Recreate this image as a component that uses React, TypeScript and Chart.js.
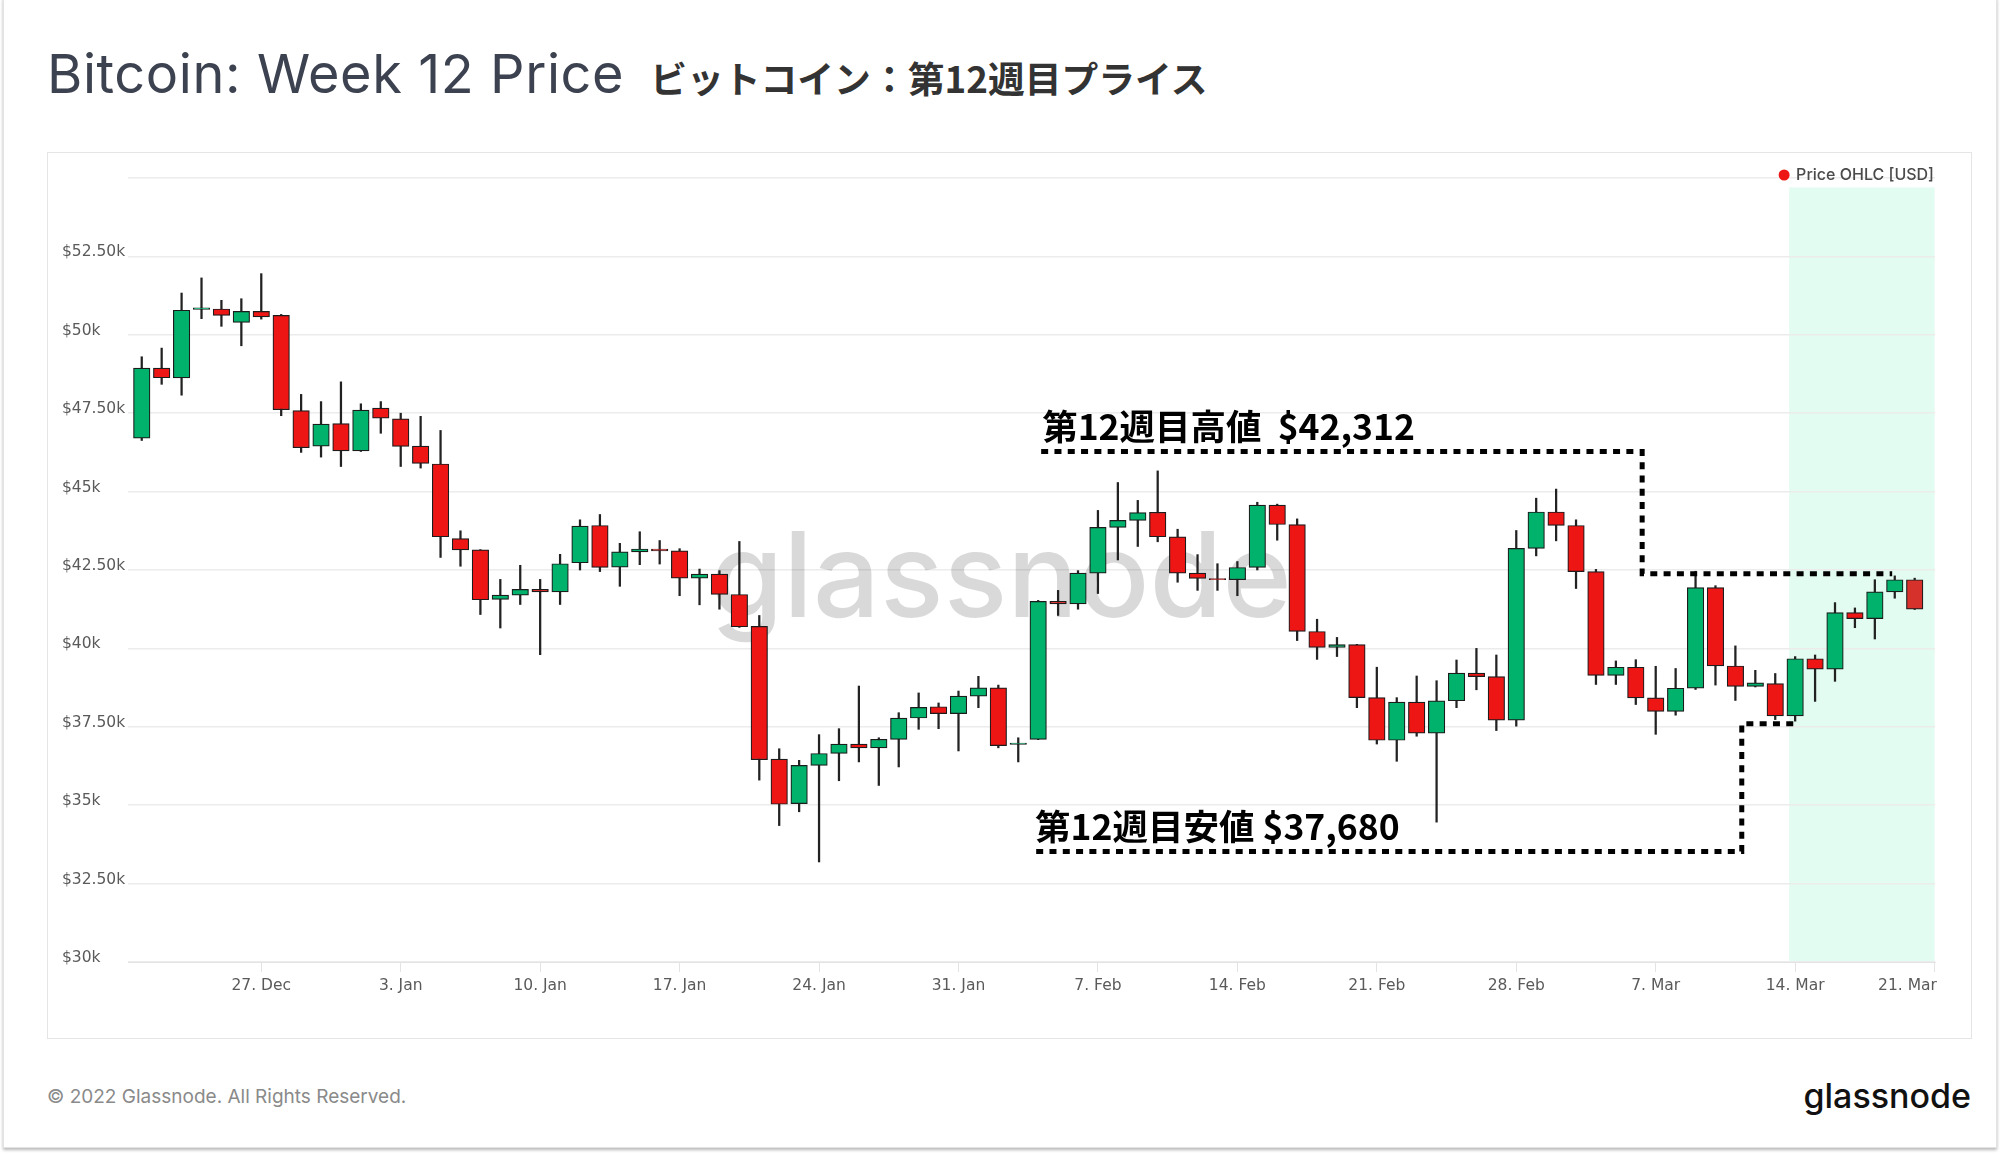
import React, { useEffect, useRef } from 'react';
import { Chart, registerables } from 'chart.js';

Chart.register(...registerables);

// ---- categories (one daily candle per date) ----
const dates: string[] = Array.from({ length: 90 }, (_, i) =>
  new Date(Date.UTC(2021, 11, 21 + i)).toISOString().slice(0, 10)
);

// ---- OHLC series (USD), Dec 21 2021 -> Mar 20 2022 ----
const opens = [
  46707, 48937, 48626, 50807, 50824, 50396, 50747, 50619, 47580, 46450, 47170,
  46300, 47660, 47320, 46450, 45880, 43500, 43140, 41560, 41700, 41880, 41800, 42730, 43920, 42590, 43080, 43170,
  43110, 42240, 42370, 41720, 40700, 36470, 35050, 36270, 36650, 36950, 36830, 37100, 37780, 38140, 37920,
  38480, 38740, 36940, 37100, 41500, 41420, 42400, 43860, 44080, 44340, 43560, 42400, 42230, 42190, 42580,
  44570, 43950, 40540, 40030, 40120, 38430, 37070, 38290, 37300, 38330, 39210, 39100, 37710,
  43190, 44350, 43920, 42450, 39140, 39400, 38420, 37990, 38730, 41940, 39440, 38790, 38880, 37850, 39670,
  39340, 41140, 40950, 41800, 42190,
];
const highs = [
  49300, 49576, 51332, 51814, 51100, 51150, 51950, 50650, 48100, 47870, 48500,
  47800, 47870, 47500, 47400, 46950, 43750, 43150, 42200, 42650, 42200, 43000, 44100, 44270, 43350, 43720, 43440,
  43180, 42530, 42480, 43410, 41050, 36800, 36430, 37250, 37440, 38800, 37150, 37950, 38580, 38260, 38640,
  39110, 38830, 37150, 41530, 41850, 42480, 44400, 45290, 44720, 45660, 43800, 42990, 42700, 42770, 44660,
  44600, 44130, 40930, 40350, 40130, 39400, 38430, 39120, 38970, 39630, 40000, 39790, 43760,
  44790, 45080, 44100, 42520, 39600, 39640, 39430, 39360, 42460, 42000, 40080, 39300, 39200, 39740, 39790,
  41460, 41290, 42190, 42312, 42240,
];
const lows = [
  46630, 48421, 48074, 50515, 50270, 49650, 50500, 47420, 46250, 46100, 45800,
  46280, 46860, 45800, 45750, 42900, 42620, 41080, 40650, 41400, 39800, 41400, 42500, 42450, 41980, 42670, 42690,
  41680, 41390, 41250, 40670, 35800, 34350, 34790, 33190, 35780, 36380, 35630, 36220, 37420, 37440, 36730,
  38110, 36830, 36380, 37090, 41050, 41250, 41750, 42820, 43250, 43400, 42110, 41850, 41850, 41680, 42500,
  43450, 40250, 39650, 39740, 38110, 36950, 36400, 37200, 34460, 38110, 38680, 37380, 37520,
  42950, 43430, 41910, 38850, 38850, 38210, 37260, 37870, 38690, 38830, 38340, 38770, 37730, 37680, 38310,
  38950, 40660, 40300, 41600, 41240,
];
const closes = [
  48936, 48629, 50784, 50860, 50619, 50747, 50568, 47612, 46400, 47150, 46300,
  47600, 47340, 46440, 45900, 43560, 43140, 41550, 41700, 41880, 41800, 42700, 43900, 42580, 43080, 43170, 43110,
  42240, 42370, 41720, 40690, 36450, 35030, 36270, 36650, 36950, 36830, 37100, 37780, 38120, 37920, 38480,
  38740, 36900, 36980, 41500, 41420, 42400, 43860, 44080, 44330, 43560, 42400, 42230, 42190, 42580, 44570,
  43950, 40540, 40030, 40120, 38430, 37070, 38290, 37300, 38330, 39210, 39100, 37710, 43190,
  44350, 43920, 42450, 39140, 39400, 38420, 37990, 38730, 41940, 39440, 38790, 38900, 37850, 39670, 39340,
  41140, 40950, 41800, 42190, 41250,
];

// ---- axes ----
const xTickIndex = [6, 13, 20, 27, 34, 41, 48, 55, 62, 69, 76, 83, 90];
const xTickLabels = ['27. Dec', '3. Jan', '10. Jan', '17. Jan', '24. Jan', '31. Jan', '7. Feb', '14. Feb', '21. Feb', '28. Feb', '7. Mar', '14. Mar', '21. Mar'];
const xAxisRange = [-0.69, 90.02];
const yTickValues = [30000, 32500, 35000, 37500, 40000, 42500, 45000, 47500, 50000, 52500, 55000];
const yAxisRange = [30000, 55000];

// ---- annotations (data space: [day index, USD]) ----
const weekHigh = 42312;
const weekLow = 37680;
const weekBand = [82.7, 90, 30000, 54700];
const highPath = [[45.15, 46282], [75.32, 46282], [75.32, 42380], [87.87, 42380]];
const lowPath = [[44.9, 33527], [80.32, 33527], [80.32, 37600], [83.08, 37600]];
const highLabelAt = [45.2, 46655];
const lowLabelAt = [44.84, 33900];
const highLabel = `第12週目高値  $${weekHigh.toLocaleString('en-US')}`;
const lowLabel = `第12週目安値 $${weekLow.toLocaleString('en-US')}`;
const seriesLabel = 'Price OHLC [USD]';

const GREEN = '#00b26b';
const RED = '#ee1515';
const LAST_RED = '#d6322b';

export default function App() {
  const ref = useRef<HTMLCanvasElement | null>(null);

  useEffect(() => {
    const canvas = ref.current;
    if (!canvas) return;
    const n = opens.length;
    const bodyColors = opens.map((o, i) => (i === n - 1 ? LAST_RED : closes[i] >= o ? GREEN : RED));
    const bodyData = dates.map((_, i) => ({ x: i, y: [Math.min(opens[i], closes[i]), Math.max(opens[i], closes[i])] }));
    const wickData = dates.map((_, i) => ({ x: i, y: [lows[i], highs[i]] }));

    const bandPlugin = {
      id: 'weekBand',
      beforeDraw(chart: any) {
        const { ctx, scales } = chart;
        const x0 = scales.x.getPixelForValue(weekBand[0]);
        const x1 = scales.x.getPixelForValue(weekBand[1]);
        const y0 = scales.y.getPixelForValue(weekBand[2]);
        const y1 = scales.y.getPixelForValue(weekBand[3]);
        ctx.save();
        ctx.fillStyle = '#e2fcf1';
        ctx.fillRect(x0, y1, x1 - x0, y0 - y1);
        ctx.restore();
      },
    };

    const watermarkPlugin = {
      id: 'watermark',
      beforeDatasetsDraw(chart: any) {
        const { ctx, chartArea } = chart;
        ctx.save();
        ctx.font = '500 118px Inter';
        ctx.fillStyle = 'rgba(0,0,0,0.15)';
        ctx.textAlign = 'center';
        ctx.textBaseline = 'alphabetic';
        ctx.fillText('glassnode', chartArea.left + chartArea.width * 0.4831, chartArea.top + chartArea.height * 0.5596);
        ctx.restore();
      },
    };

    const annotationPlugin = {
      id: 'weekAnnotations',
      afterDatasetsDraw(chart: any) {
        const { ctx, scales } = chart;
        const px = (v: number) => scales.x.getPixelForValue(v);
        const py = (v: number) => scales.y.getPixelForValue(v);
        ctx.save();
        ctx.strokeStyle = '#000';
        ctx.lineWidth = 5;
        ctx.setLineDash([7, 6.3]);
        [highPath, lowPath].forEach((path) => {
          ctx.beginPath();
          path.forEach(([xv, yv], k) => (k ? ctx.lineTo(px(xv), py(yv)) : ctx.moveTo(px(xv), py(yv))));
          ctx.stroke();
        });
        ctx.setLineDash([]);
        ctx.fillStyle = '#000';
        ctx.font = '700 35.5px "Noto Sans CJK JP"';
        ctx.textAlign = 'left';
        ctx.textBaseline = 'alphabetic';
        ctx.fillText(highLabel, px(highLabelAt[0]), py(highLabelAt[1]));
        ctx.fillText(lowLabel, px(lowLabelAt[0]), py(lowLabelAt[1]));
        ctx.restore();
      },
    };

    const legendPlugin = {
      id: 'ohlcLegend',
      afterDraw(chart: any) {
        const { ctx, chartArea } = chart;
        ctx.save();
        ctx.font = '500 16px Inter';
        ctx.fillStyle = '#4a4a4a';
        ctx.textAlign = 'right';
        ctx.textBaseline = 'middle';
        const yc = chartArea.top - 3;
        const xr = chartArea.right - 1;
        ctx.fillText(seriesLabel, xr, yc);
        const w = ctx.measureText(seriesLabel).width;
        ctx.beginPath();
        ctx.arc(xr - w - 12, yc, 5.5, 0, Math.PI * 2);
        ctx.fillStyle = RED;
        ctx.fill();
        ctx.restore();
      },
    };

    const tickFont = { family: '"DejaVu Sans"', size: 15.5 };

    const chart = new Chart(canvas, {
      type: 'bar',
      data: {
        datasets: [
          {
            label: 'wick',
            data: wickData as any,
            backgroundColor: '#222222',
            borderWidth: 0,
            barThickness: 1.6,
            grouped: false,
            order: 2,
          } as any,
          {
            label: seriesLabel,
            data: bodyData as any,
            backgroundColor: bodyColors,
            borderColor: '#1c1c1c',
            borderWidth: 1.2,
            borderSkipped: false,
            barThickness: 16.5,
            grouped: false,
            order: 1,
          } as any,
        ],
      },
      options: {
        responsive: false,
        animation: false,
        devicePixelRatio: 1,
        events: [],
        layout: { padding: { left: 14, right: 36, top: 25, bottom: 0 } },
        plugins: { legend: { display: false }, tooltip: { enabled: false } },
        scales: {
          x: {
            type: 'linear',
            min: xAxisRange[0],
            max: xAxisRange[1],
            offset: false,
            afterBuildTicks: (s: any) => {
              s.ticks = xTickIndex.map((v) => ({ value: v }));
            },
            afterFit: (s: any) => {
              s.height = 76;
              s.paddingLeft = 0;
              s.paddingRight = 0;
            },
            grid: { display: true, offset: false, drawOnChartArea: false, drawTicks: true, tickLength: 10, color: '#e3e3e3', lineWidth: 1 },
            border: { display: true, color: '#e3e3e3', width: 1 },
            ticks: {
              autoSkip: false,
              maxRotation: 0,
              minRotation: 0,
              padding: 5,
              color: '#5a5a5a',
              font: tickFont,
              callback: (_v: any, i: number) =>
                i === xTickLabels.length - 1 ? xTickLabels[i] + ' '.repeat(11) : xTickLabels[i],
            },
          } as any,
          y: {
            type: 'linear',
            position: 'left',
            min: yAxisRange[0],
            max: yAxisRange[1],
            afterBuildTicks: (s: any) => {
              s.ticks = yTickValues.map((v) => ({ value: v }));
            },
            afterFit: (s: any) => {
              s.width = 66;
              s.paddingTop = 0;
              s.paddingBottom = 0;
            },
            grid: { color: '#ececec', lineWidth: 1.5, drawTicks: false },
            border: { display: false },
            ticks: {
              crossAlign: 'far',
              labelOffset: -4,
              color: '#5a5a5a',
              font: tickFont,
              callback: (v: any) => {
                const val = Number(v);
                if (val >= yAxisRange[1]) return '';
                const k = val / 1000;
                return val % 1000 === 0 ? `$${k}k` : `$${k.toFixed(2)}k`;
              },
            },
          } as any,
        },
      },
      plugins: [bandPlugin, watermarkPlugin, annotationPlugin, legendPlugin],
    });

    return () => chart.destroy();
  }, []);

  return (
    <div style={{ position: 'absolute', left: 0, top: 0, width: 2000, height: 1155, background: '#fff', overflow: 'hidden' }}>
      <div
        style={{
          position: 'absolute',
          left: 3,
          top: -3,
          width: 1992,
          height: 1149,
          border: '1px solid #e3e3e3',
          boxShadow: '0 2px 3px rgba(0,0,0,0.28)',
          background: '#fff',
        }}
      />
      <div
        style={{
          position: 'absolute',
          left: 47,
          top: 47,
          whiteSpace: 'nowrap',
          lineHeight: '54px',
          fontFamily: 'Inter',
          fontSize: 54,
          letterSpacing: 0.6,
          color: '#3d4250',
        }}
      >
        {'Bitcoin: Week 12 Price'}
        <span
          style={{
            fontFamily: '"Noto Sans CJK JP"',
            fontSize: 36.8,
            fontWeight: 700,
            letterSpacing: 0,
            color: '#333',
            marginLeft: 26,
          }}
        >
          ビットコイン：第12週目プライス
        </span>
      </div>
      <div
        style={{
          position: 'absolute',
          left: 47,
          top: 152,
          width: 1923,
          height: 885,
          border: '1px solid #e5e5e5',
          background: '#fff',
        }}
      >
        <canvas ref={ref} width={1923} height={885} style={{ display: 'block', width: 1923, height: 885 }} />
      </div>
      <div
        style={{
          position: 'absolute',
          left: 47,
          top: 1087,
          fontFamily: 'Inter',
          fontSize: 19,
          lineHeight: '19px',
          color: '#8a8a8a',
          whiteSpace: 'nowrap',
        }}
      >
        © 2022 Glassnode. All Rights Reserved.
      </div>
      <div
        style={{
          position: 'absolute',
          right: 29,
          top: 1079,
          fontFamily: 'Inter',
          fontSize: 34,
          fontWeight: 500,
          lineHeight: '34px',
          color: '#111',
          whiteSpace: 'nowrap',
        }}
      >
        glassnode
      </div>
    </div>
  );
}
